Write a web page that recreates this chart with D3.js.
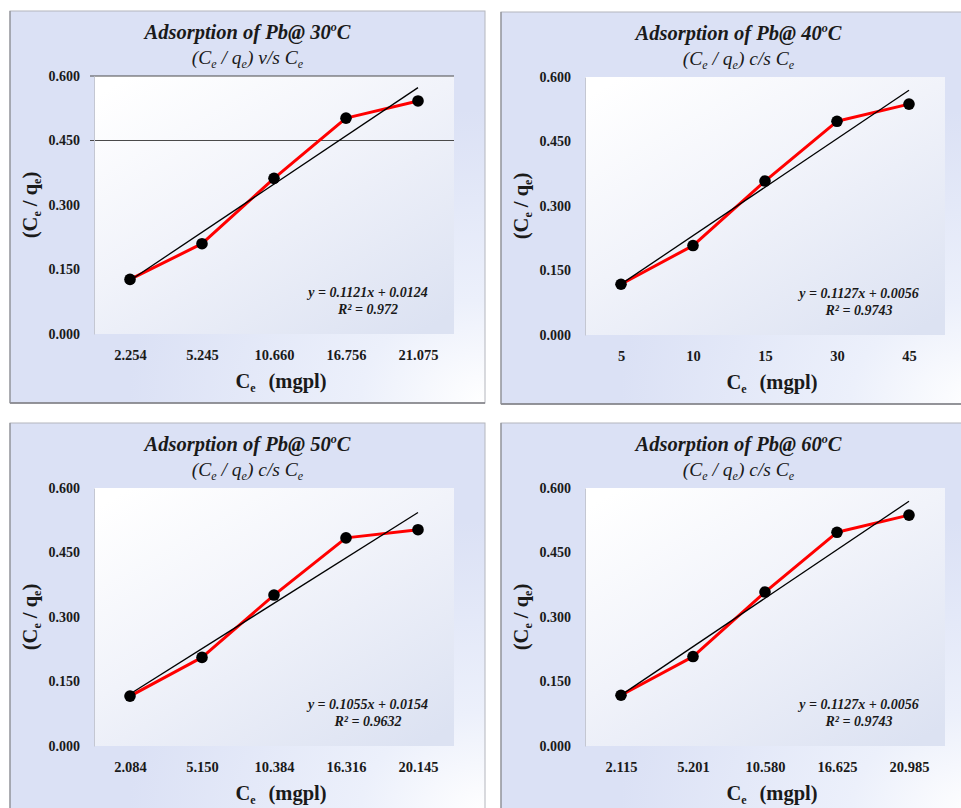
<!DOCTYPE html>
<html>
<head>
<meta charset="utf-8">
<script src="https://cdn.jsdelivr.net/npm/d3@7/dist/d3.min.js"></script>
<style>
  html, body { margin: 0; padding: 0; background: #ffffff; }
  svg { display: block; }
  text { font-family: "Liberation Serif", "Times New Roman", serif; fill: #1a1a1a; }
</style>
</head>
<body>
<svg id="chart" width="961" height="808"></svg>
<script>
// Pb adsorption isotherm data: (Ce / qe) plotted against Ce at four temperatures
const temperatures = ["30", "40", "50", "60"];
const versusWords = ["v/s", "c/s", "c/s", "c/s"];

const categories30 = ["2.254", "5.245", "10.660", "16.756", "21.075"];
const categories40 = ["5", "10", "15", "30", "45"];
const categories50 = ["2.084", "5.150", "10.384", "16.316", "20.145"];
const categories60 = ["2.115", "5.201", "10.580", "16.625", "20.985"];

const values30 = [0.127, 0.210, 0.362, 0.502, 0.542];
const values40 = [0.118, 0.208, 0.358, 0.497, 0.537];
const values50 = [0.116, 0.206, 0.351, 0.484, 0.503];
const values60 = [0.118, 0.208, 0.358, 0.497, 0.537];

// Linear trendline fitted against the point index (1..5)
const slopes = [0.1121, 0.1127, 0.1055, 0.1127];
const intercepts = [0.0124, 0.0056, 0.0154, 0.0056];
const slopeLabels = ["0.1121", "0.1127", "0.1055", "0.1127"];
const interceptLabels = ["0.0124", "0.0056", "0.0154", "0.0056"];
const rSquaredLabels = ["0.972", "0.9743", "0.9632", "0.9743"];

const yTickValues = [0, 0.15, 0.30, 0.45, 0.60];
const gridValues30 = [0.45, 0.60];
const gridValuesOther = [];

const panels = [
  { cats: categories30, vals: values30, grid: gridValues30 },
  { cats: categories40, vals: values40, grid: gridValuesOther },
  { cats: categories50, vals: values50, grid: gridValuesOther },
  { cats: categories60, vals: values60, grid: gridValuesOther }
];

const origins = [[10, 11], [501, 12], [10, 423], [501, 423]];
const panelW = 475, panelH = 392;
const plotL = 84, plotT = 65, plotW = 360, plotH = 258;

const svg = d3.select("#chart");
const defs = svg.append("defs");

const bgGrad = defs.append("radialGradient").attr("id", "panelBg")
  .attr("cx", "1").attr("cy", "1").attr("r", "0.75");
bgGrad.append("stop").attr("offset", "0").attr("stop-color", "#ffffff");
bgGrad.append("stop").attr("offset", "0.35").attr("stop-color", "#ecf0fb");
bgGrad.append("stop").attr("offset", "1").attr("stop-color", "#dbe1f5");

const plotGrad = defs.append("linearGradient").attr("id", "plotBg")
  .attr("x1", "0.1").attr("y1", "0").attr("x2", "0.9").attr("y2", "1");
plotGrad.append("stop").attr("offset", "0").attr("stop-color", "#ffffff");
plotGrad.append("stop").attr("offset", "0.45").attr("stop-color", "#f1f3fa");
plotGrad.append("stop").attr("offset", "1").attr("stop-color", "#dce2f2");

const fmt = d3.format(".3f");

panels.forEach((p, k) => {
  const [ox, oy] = origins[k];
  const g = svg.append("g").attr("transform", `translate(${ox},${oy})`);

  // panel frame
  g.append("rect").attr("width", panelW).attr("height", panelH)
    .attr("fill", "url(#panelBg)").attr("stroke", "#b4b6bd").attr("stroke-width", 1);
  g.append("line").attr("x1", 0).attr("x2", panelW).attr("y1", panelH).attr("y2", panelH)
    .attr("stroke", "#7d7d82").attr("stroke-width", 1.5);
  g.append("line").attr("x1", 0).attr("x2", 0).attr("y1", 0).attr("y2", panelH)
    .attr("stroke", "#8e8f95").attr("stroke-width", 1.2);

  // titles
  const title = g.append("text").attr("x", panelW / 2).attr("y", 28)
    .attr("text-anchor", "middle").attr("font-size", 20.5)
    .attr("font-style", "italic").attr("font-weight", "bold");
  title.append("tspan").text(`Adsorption of Pb@ ${temperatures[k]}`);
  title.append("tspan").attr("font-size", 12).attr("dy", -8).text("o");
  title.append("tspan").attr("dy", 8).text("C");

  const sub = g.append("text").attr("x", panelW / 2).attr("y", 53)
    .attr("text-anchor", "middle").attr("font-size", 19.5).attr("font-style", "italic");
  sub.append("tspan").text("(C");
  sub.append("tspan").attr("font-size", 12).attr("dy", 4).text("e");
  sub.append("tspan").attr("dy", -4).text(" / q");
  sub.append("tspan").attr("font-size", 12).attr("dy", 4).text("e");
  sub.append("tspan").attr("dy", -4).text(`)  ${versusWords[k]} C`);
  sub.append("tspan").attr("font-size", 12).attr("dy", 4).text("e");

  const plot = g.append("g").attr("transform", `translate(${plotL},${plotT})`);
  plot.append("rect").attr("width", plotW).attr("height", plotH).attr("fill", "url(#plotBg)");

  const x = d3.scalePoint().domain(p.cats).range([0, plotW]).padding(0.5);
  const y = d3.scaleLinear().domain([0, 0.6]).range([plotH, 0]);

  // horizontal gridlines
  plot.selectAll("line.grid").data(p.grid).join("line").attr("class", "grid")
    .attr("x1", -4).attr("x2", plotW).attr("y1", d => y(d)).attr("y2", d => y(d))
    .attr("stroke", "#4a4a4a").attr("stroke-width", 1);

  // value axis
  const yAxis = plot.append("g").call(d3.axisLeft(y).tickValues(yTickValues).tickFormat(fmt).tickSize(0).tickPadding(14));
  yAxis.select(".domain").attr("stroke", "#c4c7d2").attr("stroke-width", 1);
  yAxis.selectAll("text").attr("font-size", 14).attr("font-weight", "bold").attr("fill", "#1a1a1a");

  // category axis
  const xAxis = plot.append("g").attr("transform", `translate(0,${plotH})`)
    .call(d3.axisBottom(x).tickSize(0).tickPadding(16));
  xAxis.select(".domain").remove();
  xAxis.selectAll("text").attr("font-size", 14.5).attr("font-weight", "bold").attr("fill", "#1a1a1a");

  // axis titles
  const xt = g.append("text").attr("x", plotL + plotW / 2 + 7).attr("y", 377)
    .attr("text-anchor", "middle").attr("font-size", 20.5).attr("font-weight", "bold");
  xt.append("tspan").text("C");
  xt.append("tspan").attr("font-size", 12).attr("dy", 4).text("e");
  xt.append("tspan").attr("dy", -4).attr("dx", 13).text("(mgpl)");

  const yt = g.append("text").attr("transform", `translate(27,${plotT + plotH / 2}) rotate(-90)`)
    .attr("text-anchor", "middle").attr("font-size", 20.5).attr("font-weight", "bold");
  yt.append("tspan").text("(C");
  yt.append("tspan").attr("font-size", 12).attr("dy", 4).text("e");
  yt.append("tspan").attr("dy", -4).text("  / q");
  yt.append("tspan").attr("font-size", 12).attr("dy", 4).text("e");
  yt.append("tspan").attr("dy", -4).text(")");

  // data line
  const line = d3.line().x((d, i) => x(p.cats[i])).y(d => y(d));
  plot.append("path").datum(p.vals).attr("d", line)
    .attr("fill", "none").attr("stroke", "#ff0000").attr("stroke-width", 3)
    .attr("stroke-linejoin", "round");

  // linear trendline from the fitted equation
  const trend = [1, 5].map(i => [x(p.cats[i - 1]), y(slopes[k] * i + intercepts[k])]);
  plot.append("line")
    .attr("x1", trend[0][0]).attr("y1", trend[0][1])
    .attr("x2", trend[1][0]).attr("y2", trend[1][1])
    .attr("stroke", "#000000").attr("stroke-width", 1.3);

  // markers
  plot.selectAll("circle").data(p.vals).join("circle")
    .attr("cx", (d, i) => x(p.cats[i])).attr("cy", d => y(d)).attr("r", 5.8)
    .attr("fill", "#000000");

  // equation label
  const eq = g.append("text").attr("x", 358).attr("y", 286)
    .attr("text-anchor", "middle").attr("font-size", 14).attr("font-style", "italic").attr("font-weight", "bold");
  eq.append("tspan").attr("x", 358).text(`y = ${slopeLabels[k]}x + ${interceptLabels[k]}`);
  eq.append("tspan").attr("x", 358).attr("dy", 17).text(`R² = ${rSquaredLabels[k]}`);
});
</script>
</body>
</html>
